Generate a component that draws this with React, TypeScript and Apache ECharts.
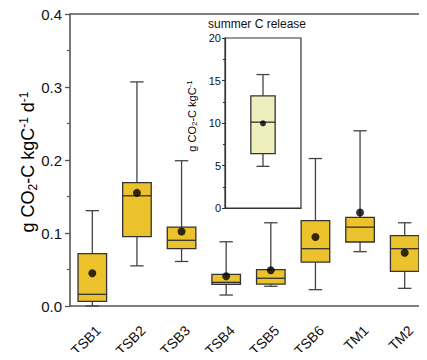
import React, { useEffect, useRef } from "react";
import * as echarts from "echarts";

// Daily CO2-C release per site: [min, Q1, median, Q3, max]
const sites = ["TSB1", "TSB2", "TSB3", "TSB4", "TSB5", "TSB6", "TM1", "TM2"];
const boxStats: number[][] = [
  [0.0, 0.0064, 0.016, 0.0717, 0.1306],
  [0.055, 0.095, 0.151, 0.169, 0.307],
  [0.061, 0.0785, 0.09, 0.108, 0.199],
  [0.015, 0.0297, 0.0324, 0.0434, 0.088],
  [0.027, 0.03, 0.038, 0.0498, 0.114],
  [0.0224, 0.06, 0.0785, 0.117, 0.202],
  [0.0744, 0.0877, 0.108, 0.1215, 0.24],
  [0.0242, 0.0475, 0.0785, 0.0963, 0.114],
];
const means = [0.0448, 0.155, 0.102, 0.0407, 0.049, 0.0945, 0.128, 0.073];

// Summer C release (inset): [min, Q1, median, Q3, max] and mean
const summerCategory = ["summer"];
const summerStats = [4.9, 6.4, 10.1, 13.2, 15.7];
const summerMean = 9.96;

const yTicksMain = { min: 0, max: 0.4, interval: 0.1 };
const yTicksInset = { min: 0, max: 20, interval: 5 };

const FONT = "Liberation Sans, Arial, sans-serif";
const AXIS = "#555";

function boxRenderer(boxRatio: number, capRatio: number, fill: string) {
  return (params: any, api: any) => {
    const i = api.value(0);
    const [mn, q1, md, q3, mx] = [1, 2, 3, 4, 5].map((k) => api.value(k));
    const band = api.size([1, 0])[0];
    const half = (band * boxRatio) / 2;
    const cap = (band * capRatio) / 2;
    const pMin = api.coord([i, mn]);
    const pQ1 = api.coord([i, q1]);
    const pMd = api.coord([i, md]);
    const pQ3 = api.coord([i, q3]);
    const pMax = api.coord([i, mx]);
    const x = pMd[0];
    const wStyle = { stroke: "#444", lineWidth: 1.3 };
    const bStyle = { stroke: "#333", lineWidth: 1.3 };
    return {
      type: "group",
      children: [
        { type: "line", shape: { x1: x, y1: pMax[1], x2: x, y2: pQ3[1] }, style: wStyle },
        { type: "line", shape: { x1: x, y1: pQ1[1], x2: x, y2: pMin[1] }, style: wStyle },
        { type: "line", shape: { x1: x - cap, y1: pMax[1], x2: x + cap, y2: pMax[1] }, style: wStyle },
        { type: "line", shape: { x1: x - cap, y1: pMin[1], x2: x + cap, y2: pMin[1] }, style: wStyle },
        {
          type: "rect",
          shape: { x: x - half, y: pQ3[1], width: half * 2, height: pQ1[1] - pQ3[1] },
          style: { fill, ...bStyle },
        },
        { type: "line", shape: { x1: x - half, y1: pMd[1], x2: x + half, y2: pMd[1] }, style: bStyle },
      ],
    };
  };
}

export default function App() {
  const ref = useRef<HTMLDivElement>(null);
  useEffect(() => {
    if (!ref.current) return;
    const chart = echarts.init(ref.current, null, { renderer: "svg" });
    const richMain = {
      n: { fontSize: 18, fontFamily: FONT, color: "#111" },
      sub: { fontSize: 12, fontFamily: FONT, color: "#111", verticalAlign: "bottom", padding: [6, 0, 0, 0] },
      sup: { fontSize: 12, fontFamily: FONT, color: "#111", verticalAlign: "top", padding: [0, 0, 9, 0] },
    };
    const richInset = {
      n: { fontSize: 11, fontFamily: FONT, color: "#111" },
      sub: { fontSize: 8, fontFamily: FONT, color: "#111", verticalAlign: "bottom", padding: [4, 0, 0, 0] },
      sup: { fontSize: 8, fontFamily: FONT, color: "#111", verticalAlign: "top", padding: [0, 0, 5, 0] },
    };
    const staticGraphics: any[] = [
      // top frame line of the main plot
      {
        type: "line",
        shape: { x1: 70, y1: 14, x2: 427, y2: 14 },
        style: { stroke: AXIS, lineWidth: 1.6 },
      },
      {
        type: "text",
        x: 28,
        y: 162,
        rotation: Math.PI / 2,
        style: {
          text: "{n|g CO}{sub|2}{n|-C kgC}{sup|-1}{n| d}{sup|-1}",
          rich: richMain,
          align: "center",
          verticalAlign: "middle",
        },
      },
      {
        type: "text",
        x: 192,
        y: 116,
        rotation: Math.PI / 2,
        z: 20,
        style: {
          text: "{n|g CO}{sub|2}{n|-C kgC}{sup|-1}",
          rich: richInset,
          align: "center",
          verticalAlign: "middle",
        },
      },
      {
        type: "text",
        x: 208,
        y: 24,
        z: 20,
        style: {
          text: "summer C release",
          fontSize: 12,
          fontFamily: FONT,
          fill: "#111",
          align: "left",
          verticalAlign: "middle",
        },
      },
    ];
    chart.setOption({
      animation: false,
      grid: [
        { left: 70, top: 14, width: 360, height: 292 },
        {
          left: 225,
          top: 38,
          width: 76,
          height: 170,
          show: true,
          borderColor: "#333",
          borderWidth: 1.2,
          backgroundColor: "#fff",
          z: 10,
        },
      ],
      xAxis: [
        {
          type: "category",
          gridIndex: 0,
          data: sites,
          offset: 3,
          axisLine: { lineStyle: { color: AXIS, width: 1.6 } },
          axisTick: { alignWithLabel: true, length: 6, lineStyle: { color: AXIS, width: 1.3 } },
          axisLabel: { show: false },
        },
        {
          type: "category",
          gridIndex: 1,
          data: summerCategory,
          axisLine: { lineStyle: { color: "#333", width: 1.2 } },
          axisTick: { show: false },
          axisLabel: { show: false },
          z: 11,
        },
      ],
      yAxis: [
        {
          type: "value",
          gridIndex: 0,
          ...yTicksMain,
          axisLine: { show: true, lineStyle: { color: AXIS, width: 1.6 } },
          axisTick: { show: true, length: 5, lineStyle: { color: AXIS, width: 1.3 } },
          minorTick: { show: true, splitNumber: 2, length: 3, lineStyle: { color: AXIS, width: 1.2 } },
          splitLine: { show: false },
          axisLabel: {
            fontSize: 15,
            fontFamily: FONT,
            color: "#111",
            margin: 8,
            formatter: (v: number) => v.toFixed(1),
          },
        },
        {
          type: "value",
          gridIndex: 1,
          ...yTicksInset,
          axisLine: { show: true, lineStyle: { color: "#333", width: 1.2 } },
          axisTick: { show: true, length: 3, lineStyle: { color: "#333", width: 1 } },
          minorTick: { show: true, splitNumber: 2, length: 2, lineStyle: { color: "#333", width: 1 } },
          splitLine: { show: false },
          axisLabel: { fontSize: 11, fontFamily: FONT, color: "#111", margin: 4 },
          z: 11,
        },
      ],
      series: [
        {
          type: "custom",
          xAxisIndex: 0,
          yAxisIndex: 0,
          renderItem: boxRenderer(0.64, 0.3, "#EBC22C"),
          encode: { x: 0, y: [1, 2, 3, 4, 5] },
          data: boxStats.map((s, i) => [i, ...s]),
          z: 2,
        },
        {
          type: "scatter",
          xAxisIndex: 0,
          yAxisIndex: 0,
          symbolSize: 8,
          itemStyle: { color: "#000" },
          data: means.map((m, i) => [i, m]),
          z: 3,
        },
        {
          type: "custom",
          xAxisIndex: 1,
          yAxisIndex: 1,
          renderItem: boxRenderer(0.32, 0.17, "#EFEFBE"),
          encode: { x: 0, y: [1, 2, 3, 4, 5] },
          data: [[0, ...summerStats]],
          z: 12,
        },
        {
          type: "scatter",
          xAxisIndex: 1,
          yAxisIndex: 1,
          symbolSize: 6,
          itemStyle: { color: "#000" },
          data: [[0, summerMean]],
          z: 13,
        },
      ],
      graphic: staticGraphics,
    });

    // Slanted category labels, anchored below each category's tick
    const siteLabels = sites.map((name, i) => {
      const [px, py] = chart.convertToPixel({ xAxisIndex: 0, yAxisIndex: 0 }, [i, 0]) as number[];
      return {
        type: "text",
        x: px + 6,
        y: py + 22,
        rotation: Math.PI / 4,
        style: {
          text: name,
          fontSize: 14,
          fontFamily: FONT,
          fill: "#111",
          align: "right",
          verticalAlign: "middle",
        },
      };
    });
    chart.setOption({ graphic: [...staticGraphics, ...siteLabels] });

    return () => chart.dispose();
  }, []);
  return <div ref={ref} style={{ width: 427, height: 360, margin: -8 }} />;
}
